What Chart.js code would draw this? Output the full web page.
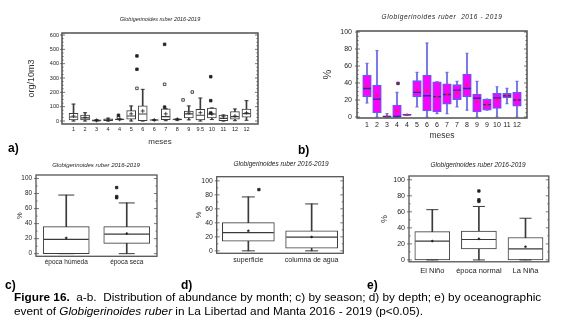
<!DOCTYPE html>
<html><head><meta charset="utf-8">
<script src="https://cdn.jsdelivr.net/npm/chart.js@4.4.0/dist/chart.umd.min.js"></script>
<style>
html,body{margin:0;padding:0;background:#fff;width:567px;height:336px;overflow:hidden;position:relative;font-family:"Liberation Sans",Arial,sans-serif;}
canvas{position:absolute;}
.t{position:absolute;white-space:nowrap;font-style:italic;color:#222;transform:translate(-50%,-50%);line-height:1;}
.lab{position:absolute;font-weight:bold;font-size:12px;color:#000;line-height:1;transform:translateY(-50%);}
.cap{position:absolute;left:14px;top:291px;font-size:11.8px;line-height:13.5px;color:#000;white-space:nowrap;}
</style></head><body>
<canvas id="ca" width="280" height="152" style="left:0px;top:0px"></canvas>
<canvas id="cb" width="287" height="152" style="left:280px;top:0px"></canvas>
<canvas id="cc" width="190" height="130" style="left:0px;top:150px"></canvas>
<canvas id="cd" width="180" height="130" style="left:190px;top:150px"></canvas>
<canvas id="ce" width="197" height="130" style="left:370px;top:150px"></canvas>

<div class="t" style="left:160px;top:20px;font-size:5.5px">Globigerinoides ruber 2016-2019</div>
<div class="t" style="left:442px;top:17px;font-size:6.5px;letter-spacing:0.6px">Globigerinoides ruber&nbsp; 2016 - 2019</div>
<div class="t" style="left:96px;top:165px;font-size:6px">Globigerinoides ruber 2016-2019</div>
<div class="t" style="left:281px;top:164px;font-size:6.5px">Globigerinoides ruber 2016-2019</div>
<div class="t" style="left:478px;top:165px;font-size:6.5px">Globigerinoides ruber 2016-2019</div>

<div class="lab" style="left:8px;top:148px">a)</div>
<div class="lab" style="left:298px;top:150px">b)</div>
<div class="lab" style="left:5px;top:285px">c)</div>
<div class="lab" style="left:181px;top:285px">d)</div>
<div class="lab" style="left:367px;top:285px">e)</div>

<div class="cap"><b>Figure 16.</b>&nbsp; a-b.&nbsp; Distribution of abundance by month; c) by season; d) by depth; e) by oceanographic<br>event of <i>Globigerinoides ruber</i> in La Libertad and Manta 2016 - 2019 (p&lt;0.05).</div>

<script>
// ---------- Panel a: org/10m3 by month ----------
const aLabels = ['1','2','3','4','4','5','6','6','7','8','9','9.5','10','11','12','12'];
const aMin  = [0, 0, 0, 0, 8, 0, 0, 4, 2, 5, 8, 0, 10, 0, 2, 5];
const aQ1   = [8, 7, 0, 2, 10, 12, 2, 5, 10, 8, 21, 7, 21, 2, 12, 26];
const aMed  = [28, 22, 3, 6, 12, 35, 49, 7, 30, 11, 50, 40, 49, 18, 30, 52];
const aQ3   = [54, 42, 8, 16, 14, 72, 105, 9, 85, 14, 70, 82, 91, 42, 65, 84];
const aMax  = [118, 58, 10, 20, 15, 105, 221, 10, 85, 15, 105, 160, 91, 42, 84, 142];
const aMean = [35, 26, 4, 8, 12, 50, 70, 7, 50, 12, 56, 58, 49, 30, 35, 58];
const aOutOpen   = [[],[],[],[26],[],[228],[],[],[256],[],[147],[202],[],[],[],[]];
const aOutFilled = [[],[],[],[40],[],[361,454],[],[],[97,535],[],[],[],[],[56,142,309],[],[]];
const aTicks = [0,100,200,300,400,500,600];

// ---------- Panel b: % by month ----------
const bLabels = ['1','2','3','4','4','5','6','6','7','7','8','9','9','10','11','12'];
const bMin  = [16.6, 0, 0, 0, 2, 12, 0, 4, 4, 12, 8, 0, 8, 0, 15.8, 0];
const bQ1   = [23.7, 4.7, 0, 0, 2, 23.7, 7, 6, 15, 20.5, 23.7, 6, 8, 10, 22.5, 12.6];
const bMed  = [33.6, 21, 0.5, 0.5, 2.5, 29, 25, 24, 26.5, 31.6, 33.6, 22, 14.6, 22.5, 25, 20];
const bQ3   = [49.4, 37.5, 1, 14, 3, 42.7, 49.4, 41.5, 39, 38, 50.6, 27, 21, 27.7, 27.7, 29];
const bMax  = [63, 78, 4, 29, 3, 52.5, 87, 41.5, 52.5, 42, 75, 42, 21, 35.6, 33.6, 42];
const bMean = [35.6, 25, 0.5, 7, 2.5, 31.6, 31, 24, 26.5, 28.5, 37.5, 18, 14.6, 20, 25, 20];
const bOut  = [[],[],[39.5],[],[],[],[],[],[],[],[],[],[],[],[],[]];
const pctTicks = [0,20,40,60,80,100];

// ---------- Panel c: by season ----------
const cLabels = ['época húmeda','época seca'];
const cMin  = [0, 0];
const cQ1   = [0, 13.7];
const cMed  = [19, 26];
const cQ3   = [36, 36];
const cMax  = [78, 67.5];
const cMean = [21, 26.7];
const cOut  = [[], [74.5, 76, 88]];

// ---------- Panel d: by depth ----------
const dLabels = ['superficie','columna de agua'];
const dMin  = [0, 0];
const dQ1   = [14, 4];
const dMed  = [25.9, 19.6];
const dQ3   = [40.4, 28.6];
const dMax  = [77, 67];
const dMean = [28.6, 19.8];
const dOut  = [[87.5], []];

// ---------- Panel e: by oceanographic event ----------
const eLabels = ['El Niño','época normal','La Niña'];
const eMin  = [0, 0, 0];
const eQ1   = [0, 13.7, 0];
const eMed  = [23.5, 25.5, 13.7];
const eQ3   = [35.3, 36, 28];
const eMax  = [62.7, 66.7, 52];
const eMean = [23.5, 26.3, 16.5];
const eOut  = [[], [73, 75, 86], []];

const FONT = '"Liberation Sans", Arial, sans-serif';

const framePlugin = {
  id: 'frame',
  afterDraw(chart, args, o) {
    const ctx = chart.ctx, y = chart.scales.y;
    const {left, right, top, bottom} = chart.chartArea;
    ctx.save();
    ctx.strokeStyle = o.color;
    ctx.lineWidth = 0.8;
    ctx.beginPath();
    for (let v = o.start; v <= o.end + 1e-9; v += o.minor) {
      const py = y.getPixelForValue(v);
      const r = v / o.major;
      const major = Math.abs(r - Math.round(r)) < 1e-6;
      const len = major ? 3 : 1.6;
      ctx.moveTo(left, py); ctx.lineTo(left + len, py);
      ctx.moveTo(right, py); ctx.lineTo(right - len, py);
      if (major) { ctx.moveTo(left, py); ctx.lineTo(left - 2, py); }
    }
    ctx.stroke();
    ctx.lineWidth = o.width;
    ctx.strokeRect(left, top, right - left, bottom - top);
    ctx.restore();
  }
};

function makeChart(id, g, d, s) {
  const n = d.labels.length;
  const padE = g.padEnds;
  const P = a => padE ? [null, ...a, null] : a.slice();
  const labels = padE ? ['', ...d.labels, ''] : d.labels.slice();
  const idx = i => padE ? i + 1 : i;
  const xoMin = padE ? 0 : -0.5, xoMax = padE ? n + 1 : n - 0.5;
  const pts = arr => { const out = []; (arr || []).forEach((l, i) => l.forEach(v => out.push({x: idx(i), y: v}))); return out; };
  const boxes = P(d.q1.map((v, i) => [v, d.q3[i]]));
  const whisk = P(d.min.map((v, i) => [v, d.max[i]]));
  const tf = sz => ({family: FONT, size: sz});
  const datasets = [
    {type: 'bar', data: whisk, backgroundColor: s.whiskColor, borderWidth: 0, barThickness: s.whiskW, grouped: false, order: 6, xAxisID: 'x', yAxisID: 'y'},
    {type: 'bar', data: boxes, backgroundColor: s.boxFill, borderColor: s.boxBorder, borderWidth: s.boxBW, borderSkipped: false, barThickness: s.boxW, grouped: false, order: 5, xAxisID: 'x', yAxisID: 'y'},
    {type: 'line', data: P(d.max), showLine: false, pointStyle: 'line', pointRadius: s.capW / 2, pointBorderColor: s.whiskColor, pointBorderWidth: s.whiskW, order: 4, xAxisID: 'x', yAxisID: 'y'},
    {type: 'line', data: P(d.min), showLine: false, pointStyle: 'line', pointRadius: s.capW / 2, pointBorderColor: s.whiskColor, pointBorderWidth: s.whiskW, order: 4, xAxisID: 'x', yAxisID: 'y'},
    {type: 'line', data: P(d.med), showLine: false, pointStyle: 'line', pointRadius: s.boxW / 2 - 0.5, pointBorderColor: s.medColor, pointBorderWidth: s.medW, order: 3, xAxisID: 'x', yAxisID: 'y'},
    {type: 'line', data: P(d.mean), showLine: false, pointStyle: s.meanStyle, pointRadius: s.meanR, pointBackgroundColor: s.meanColor, pointBorderColor: s.meanColor, pointBorderWidth: s.meanBW, order: 2, xAxisID: 'x', yAxisID: 'y'},
    {type: 'scatter', data: pts(d.outFilled), pointStyle: 'rect', pointRadius: s.outR, pointBackgroundColor: s.outFill, pointBorderColor: s.outColor, pointBorderWidth: 0.8, order: 1, xAxisID: 'xo', yAxisID: 'y'},
    {type: 'scatter', data: pts(d.outOpen), pointStyle: 'rect', pointRadius: s.outR, pointBackgroundColor: '#fff', pointBorderColor: s.outColor, pointBorderWidth: 0.8, order: 1, xAxisID: 'xo', yAxisID: 'y'}
  ];
  return new Chart(document.getElementById(id), {
    type: 'bar',
    data: {labels, datasets},
    options: {
      responsive: false, animation: false, devicePixelRatio: 1, events: [],
      layout: {padding: {left: 0, top: g.T, right: g.w - g.R, bottom: 0}},
      plugins: {legend: {display: false}, tooltip: {enabled: false},
        frame: {color: s.frameColor, width: s.frameW, start: g.tickStart, end: g.tickEnd, major: g.major, minor: g.minor}},
      scales: {
        x: {type: 'category', offset: !padE,
            grid: {display: false, drawTicks: false}, border: {display: false},
            ticks: {font: tf(s.xFont), color: '#222', padding: g.xPad, autoSkip: false, maxRotation: 0},
            title: {display: !!s.xTitle, text: s.xTitle || '', font: tf(s.xTitleFont), color: '#333', padding: {top: 0, bottom: g.xTitlePad}},
            afterFit: sc => { sc.height = g.h - g.B; }},
        xo: {type: 'linear', display: false, min: xoMin, max: xoMax},
        y: {type: 'linear', min: g.yMin, max: g.yMax,
            grid: {display: false, drawTicks: false}, border: {display: false},
            ticks: {font: tf(s.yFont), color: '#222', padding: g.yPad},
            afterBuildTicks: sc => { sc.ticks = d.ticks.map(v => ({value: v})); },
            title: {display: true, text: s.yTitle, font: tf(s.yTitleFont), color: '#333', padding: {top: g.yTitlePad, bottom: 0}},
            afterFit: sc => { sc.width = g.L; }}
      }
    },
    plugins: [framePlugin]
  });
}

const whiteStyle = {boxFill: '#fff', boxBorder: '#3a3a3a', boxBW: 1, whiskColor: '#3a3a3a', whiskW: 1,
  medColor: '#3a3a3a', medW: 1.2, meanStyle: 'circle', meanR: 1, meanColor: '#222', meanBW: 0.5,
  outR: 1.7, outColor: '#222', outFill: '#222', frameColor: '#555', frameW: 1.3};

makeChart('ca',
  {w: 280, h: 152, L: 62, R: 258, T: 33, B: 124, padEnds: true, yMin: -20.9, yMax: 614,
   xPad: 2, xTitlePad: 5, yPad: 3, yTitlePad: 26.6, tickStart: 0, tickEnd: 600, major: 100, minor: 25},
  {labels: aLabels, min: aMin, q1: aQ1, med: aMed, q3: aQ3, max: aMax, mean: aMean, outOpen: aOutOpen, outFilled: aOutFilled, ticks: aTicks},
  Object.assign({}, whiteStyle, {boxW: 9, capW: 4, meanStyle: 'cross', meanR: 2, meanBW: 0.8, outR: 1.8,
   xFont: 5.5, yFont: 5.5, xTitle: 'meses', xTitleFont: 8, yTitle: 'org/10m3', yTitleFont: 9, frameColor: '#505050', frameW: 1.5}));

makeChart('cb',
  {w: 287, h: 152, L: 77, R: 247, T: 31, B: 118, padEnds: true, yMin: -1.2, yMax: 101.2,
   xPad: 3, xTitlePad: 11, yPad: 5, yTitlePad: 41, tickStart: 0, tickEnd: 100, major: 20, minor: 5},
  {labels: bLabels, min: bMin, q1: bQ1, med: bMed, q3: bQ3, max: bMax, mean: bMean, outFilled: bOut, ticks: pctTicks},
  {boxFill: '#ff00ff', boxBorder: '#5c5cff', boxBW: 1.3, boxW: 8.6, whiskColor: '#6f6fff', whiskW: 1.2, capW: 3,
   medColor: '#2a2aa8', medW: 1.4, meanStyle: 'circle', meanR: 1, meanColor: '#ff2020', meanBW: 0.5,
   outR: 1.8, outColor: '#1a1a80', outFill: '#d01030',
   xFont: 7, yFont: 7, xTitle: 'meses', xTitleFont: 8.5, yTitle: '%', yTitleFont: 11, frameColor: '#505050', frameW: 1.5});

makeChart('cc',
  {w: 190, h: 130, L: 36, R: 157, T: 25, B: 117, padEnds: false, yMin: -3.5, yMax: 104.7,
   xPad: 2, xTitlePad: 0, yPad: 4, yTitlePad: 15.3, tickStart: 0, tickEnd: 100, major: 20, minor: 10},
  {labels: cLabels, min: cMin, q1: cQ1, med: cMed, q3: cQ3, max: cMax, mean: cMean, outFilled: cOut, ticks: pctTicks},
  Object.assign({}, whiteStyle, {boxW: 46, capW: 16, xFont: 6.5, yFont: 6.4, xTitle: '', yTitle: '%', yTitleFont: 7.5}));

makeChart('cd',
  {w: 180, h: 130, L: 23, R: 160, T: 24, B: 117, padEnds: false, yMin: -3.5, yMax: 105.9,
   xPad: 2.4, xTitlePad: 0, yPad: 4, yTitlePad: 1, tickStart: 0, tickEnd: 100, major: 20, minor: 10},
  {labels: dLabels, min: dMin, q1: dQ1, med: dMed, q3: dQ3, max: dMax, mean: dMean, outFilled: dOut, ticks: pctTicks},
  Object.assign({}, whiteStyle, {boxW: 52, capW: 13, xFont: 7, yFont: 6.8, xTitle: '', yTitle: '%', yTitleFont: 7.5}));

makeChart('ce',
  {w: 197, h: 130, L: 39, R: 185, T: 26, B: 117, padEnds: false, yMin: -2.35, yMax: 104.7,
   xPad: 4.5, xTitlePad: 0, yPad: 4, yTitlePad: 9.6, tickStart: 0, tickEnd: 100, major: 20, minor: 10},
  {labels: eLabels, min: eMin, q1: eQ1, med: eMed, q3: eQ3, max: eMax, mean: eMean, outFilled: eOut, ticks: pctTicks},
  Object.assign({}, whiteStyle, {boxW: 35, capW: 12, xFont: 7.5, yFont: 7, xTitle: '', yTitle: '%', yTitleFont: 9}));
</script>
</body></html>
